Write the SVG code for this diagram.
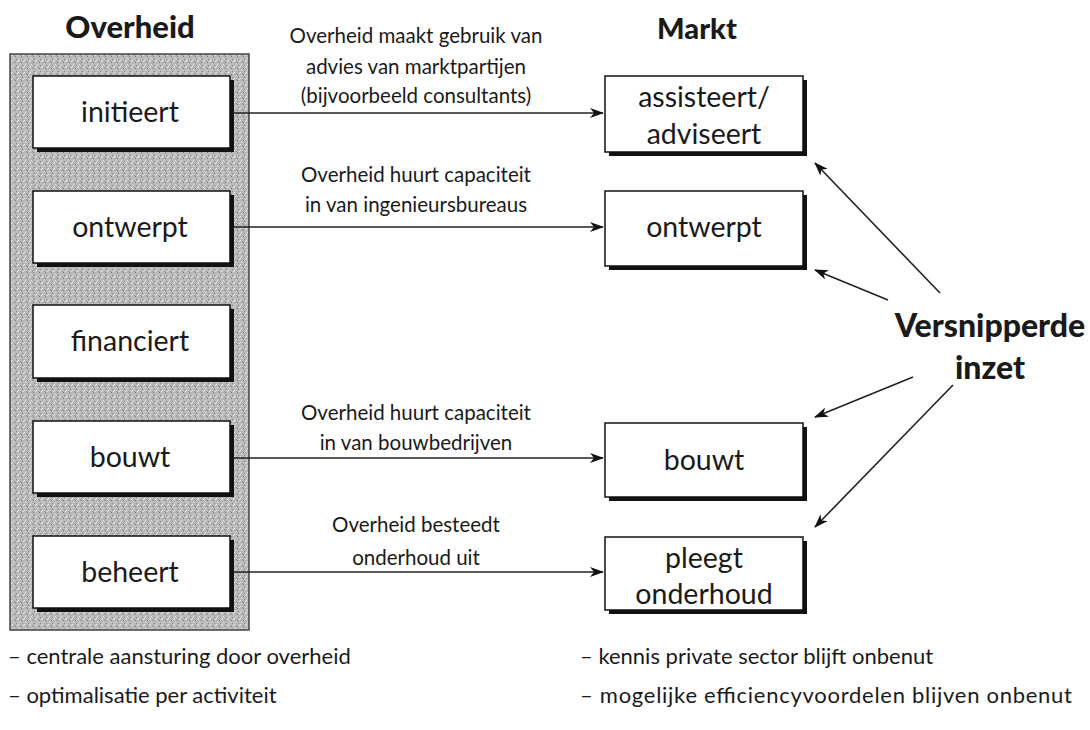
<svg xmlns="http://www.w3.org/2000/svg" width="1090" height="730" viewBox="0 0 1090 730">
<style>
.box{fill:#fff;stroke:#111;stroke-width:1.5}
.sh{fill:#111}
.t{font-family:Lato,"Open Sans",sans-serif;font-size:28.5px;fill:#1a1a1a;text-anchor:middle}
.h{font-family:Lato,"Open Sans",sans-serif;font-size:31px;font-weight:900;fill:#1a1a1a;text-anchor:middle}
.l{font-family:Lato,"Open Sans",sans-serif;font-size:20.5px;fill:#1a1a1a}
.n{font-family:Lato,"Open Sans",sans-serif;font-size:22px;fill:#1a1a1a}
.c{text-anchor:middle}
.con{stroke:#222;stroke-width:1.6;fill:none;marker-end:url(#ah)}
</style>
<defs>
<marker id="ah" viewBox="0 0 14 10" refX="13" refY="5" markerWidth="14" markerHeight="10" markerUnits="userSpaceOnUse" orient="auto">
<path d="M0,0 L14,5 L0,10 L4,5 Z" fill="#111"/>
</marker>
<pattern id="grain" width="6" height="6" patternUnits="userSpaceOnUse">
<rect width="6" height="6" fill="#b9b9b9"/>
<rect x="0" y="0" width="1" height="1" fill="#eee"/>
<rect x="3" y="2" width="1" height="1" fill="#777"/>
<rect x="1" y="4" width="1" height="1" fill="#ddd"/>
<rect x="4" y="5" width="1" height="1" fill="#888"/>
<rect x="5" y="1" width="1" height="1" fill="#e6e6e6"/>
<rect x="2" y="1" width="1" height="1" fill="#999"/>
</pattern>
</defs>
<rect width="1090" height="730" fill="#fff"/>
<text class="h" x="130" y="38">Overheid</text>
<text class="h" x="697" y="39" style="font-size:29px">Markt</text>
<rect id="overheid-panel" x="10" y="54" width="239" height="576" fill="url(#grain)" stroke="#444" stroke-width="1.5"/>

<g id="o-initieert"><rect class="sh" x="37" y="80" width="197" height="72"/><rect class="box" x="33" y="76" width="197" height="72"/><text class="t" x="130" y="122">initieert</text></g>
<g id="o-ontwerpt"><rect class="sh" x="37" y="195" width="197" height="72"/><rect class="box" x="33" y="191" width="197" height="72"/><text class="t" x="130" y="237">ontwerpt</text></g>
<g id="o-financiert"><rect class="sh" x="37" y="309" width="197" height="73"/><rect class="box" x="33" y="305" width="197" height="73"/><text class="t" x="130" y="351">financiert</text></g>
<g id="o-bouwt"><rect class="sh" x="37" y="425" width="197" height="72"/><rect class="box" x="33" y="421" width="197" height="72"/><text class="t" x="130" y="467">bouwt</text></g>
<g id="o-beheert"><rect class="sh" x="37" y="540" width="197" height="72"/><rect class="box" x="33" y="536" width="197" height="72"/><text class="t" x="130" y="582">beheert</text></g>

<g id="m-assisteert"><rect class="sh" x="609" y="80" width="198" height="76"/><rect class="box" x="605" y="76" width="198" height="76"/><text class="t" x="704" y="107">assisteert/</text><text class="t" x="704" y="144">adviseert</text></g>
<g id="m-ontwerpt"><rect class="sh" x="609" y="195" width="198" height="75"/><rect class="box" x="605" y="191" width="198" height="75"/><text class="t" x="704" y="237">ontwerpt</text></g>
<g id="m-bouwt"><rect class="sh" x="609" y="427" width="198" height="74"/><rect class="box" x="605" y="423" width="198" height="74"/><text class="t" x="704" y="470">bouwt</text></g>
<g id="m-onderhoud"><rect class="sh" x="609" y="541" width="198" height="73"/><rect class="box" x="605" y="537" width="198" height="73"/><text class="t" x="704" y="568">pleegt</text><text class="t" x="704" y="604">onderhoud</text></g>

<g id="versnipperd"><text class="h" x="990" y="337" style="font-size:32px">Versnipperde</text><text class="h" x="990" y="379" style="font-size:32px">inzet</text></g>

<g id="connectors">
<line class="con" x1="234" y1="113" x2="603" y2="113"/>
<line class="con" x1="234" y1="227" x2="603" y2="227"/>
<line class="con" x1="234" y1="458" x2="603" y2="458"/>
<line class="con" x1="234" y1="572" x2="603" y2="572"/>
<line class="con" x1="940" y1="293" x2="815" y2="163"/>
<line class="con" x1="888" y1="300" x2="815" y2="270"/>
<line class="con" x1="913" y1="377" x2="815" y2="417"/>
<line class="con" x1="953" y1="385" x2="815" y2="527"/>
</g>

<g id="labels">
<text class="l c" x="416" y="43">Overheid maakt gebruik van</text>
<text class="l c" x="416" y="74">advies van marktpartijen</text>
<text class="l c" x="416" y="103">(bijvoorbeeld consultants)</text>
<text class="l c" x="416" y="182">Overheid huurt capaciteit</text>
<text class="l c" x="416" y="212">in van ingenieursbureaus</text>
<text class="l c" x="416" y="420">Overheid huurt capaciteit</text>
<text class="l c" x="416" y="450">in van bouwbedrijven</text>
<text class="l c" x="416" y="532">Overheid besteedt</text>
<text class="l c" x="416" y="565">onderhoud uit</text>
</g>

<g id="notes">
<text class="n" x="8" y="664">– centrale aansturing door overheid</text>
<text class="n" x="8" y="703">– optimalisatie per activiteit</text>
<text class="n" x="580" y="664">– kennis private sector blijft onbenut</text>
<text class="n" x="580" y="703" textLength="492" lengthAdjust="spacing">– mogelijke efficiencyvoordelen blijven onbenut</text>
</g>
</svg>
